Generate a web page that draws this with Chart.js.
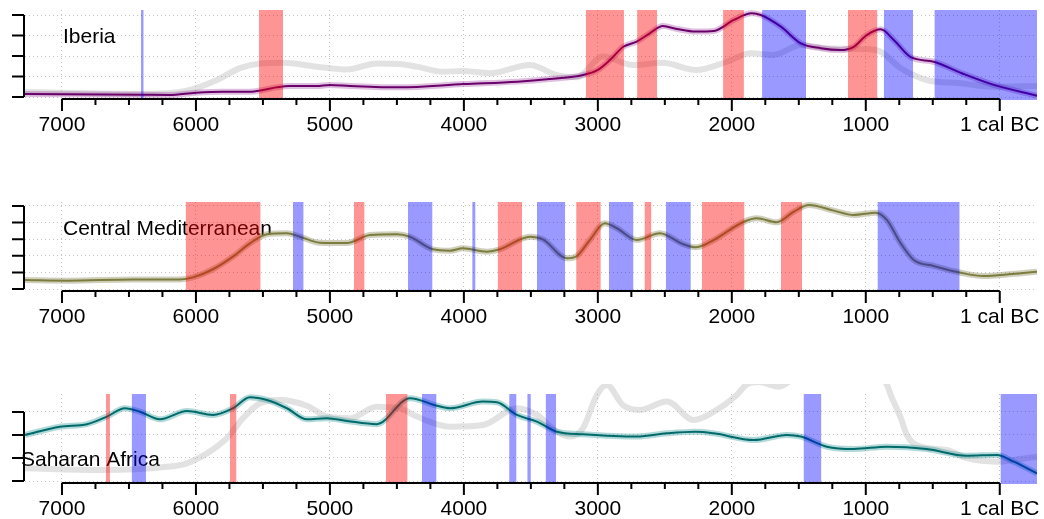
<!DOCTYPE html>
<html>
<head>
<meta charset="utf-8">
<script src="https://cdn.jsdelivr.net/npm/chart.js@4.4.1/dist/chart.umd.min.js"></script>
<style>
  html, body { margin: 0; padding: 0; background: #fff; }
  body { width: 1044px; height: 519px; position: relative; overflow: hidden; }
  canvas { position: absolute; left: 0; }
</style>
</head>
<body>
<canvas id="c1" width="1044" height="140" style="top:0px"></canvas>
<canvas id="c2" width="1044" height="140" style="top:192px"></canvas>
<canvas id="c3" width="1044" height="135" style="top:384px"></canvas>
<script>
// ---------- Data ----------
const xMin = -278, xMax = 7276; // years cal BC, axis runs right to left
const majorTicks = [7000, 6000, 5000, 4000, 3000, 2000, 1000, 0];
const majorLabels = ["7000", "6000", "5000", "4000", "3000", "2000", "1000", "1 cal BC"];
const minorStep = 250;

// Iberia
const iberiaYears = [7276, 6400, 6200, 6000, 5800, 5600, 5500, 5400, 5300, 5100, 5000, 4850, 4480, 4000, 3600, 3360, 3110, 3000, 2910, 2810, 2710, 2610, 2515, 2410, 2270, 2134, 1985, 1851, 1784, 1634, 1485, 1336, 1187, 1090, 993, 888, 791, 664, 493, 284, 44, -278];
const iberiaValues = [0.15, 0.11, 0.10, 0.21, 0.26, 0.26, 0.34, 0.47, 0.54, 0.54, 0.59, 0.54, 0.47, 0.63, 0.75, 0.88, 1.07, 1.32, 1.80, 2.45, 2.70, 3.12, 3.46, 3.32, 3.19, 3.22, 3.76, 4.08, 4.00, 3.43, 2.62, 2.38, 2.29, 2.45, 3.02, 3.30, 2.78, 1.94, 1.72, 1.16, 0.59, 0.06];
const iberiaGrayYears = [7276, 6418, 6067, 5843, 5672, 5522, 5351, 5097, 4873, 4650, 4478, 4351, 4157, 4007, 3806, 3507, 3306, 3157, 2963, 2739, 2515, 2270, 2037, 1858, 1687, 1485, 1291, 993, 888, 739, 545, 291, 45, -278];
const iberiaGrayValues = [0.24, 0.15, 0.31, 0.83, 1.41, 1.64, 1.67, 1.48, 1.34, 1.64, 1.61, 1.48, 1.23, 1.27, 1.16, 1.56, 1.07, 0.96, 1.97, 1.56, 1.67, 1.32, 1.72, 2.13, 2.05, 2.54, 2.38, 2.33, 2.21, 1.40, 0.83, 0.67, 0.50, 0.54];
const iberiaRed = [[5530, 5350], [3090, 2805], [2707, 2557], [2065, 1910], [1134, 913]];
const iberiaBlue = [[6410, 6390], [1774, 1446], [866, 647], [488, -278]];
const iberiaYTicks = [0, 1, 2, 3, 4];

// Central Mediterranean
const cmedYears = [7276, 6963, 6470, 6119, 6022, 5873, 5724, 5597, 5470, 5321, 5224, 5075, 4873, 4701, 4500, 4403, 4231, 4104, 4007, 3828, 3731, 3507, 3410, 3231, 3157, 3060, 2948, 2858, 2709, 2537, 2366, 2270, 2157, 1910, 1813, 1664, 1537, 1425, 1239, 1090, 926, 843, 739, 642, 493, 291, 119, -90, -278];
const cmedValues = [0.54, 0.50, 0.58, 0.58, 0.70, 1.19, 1.95, 2.75, 3.30, 3.36, 3.15, 2.79, 2.77, 3.25, 3.30, 3.15, 2.39, 2.31, 2.45, 2.25, 2.39, 3.15, 2.99, 1.85, 1.99, 2.95, 3.96, 3.66, 2.95, 3.36, 2.71, 2.51, 2.85, 4.05, 4.26, 4.02, 4.66, 5.06, 4.72, 4.46, 4.60, 4.16, 2.75, 1.75, 1.39, 0.98, 0.78, 0.90, 1.04];
const cmedRed = [[6077, 5517], [4821, 4741], [3748, 3565], [3162, 2978], [2652, 2600], [2224, 1905], [1634, 1475]];
const cmedBlue = [[5276, 5196], [4418, 4234], [3938, 3913], [3455, 3244], [2918, 2734], [2493, 2306], [913, 299]];
const cmedYTicks = [0, 1, 2, 3, 4, 5];

// Saharan Africa
const saharaYears = [7276, 7015, 6813, 6664, 6530, 6418, 6269, 6067, 5873, 5724, 5597, 5470, 5321, 5172, 5022, 4873, 4650, 4403, 4201, 4104, 3858, 3754, 3604, 3455, 3306, 3112, 2709, 2485, 2270, 2134, 1836, 1590, 1485, 1291, 1090, 843, 545, 246, 22, -104, -278];
const saharaValues = [2.00, 2.36, 2.47, 2.80, 3.16, 3.01, 2.68, 3.04, 2.87, 3.16, 3.64, 3.52, 3.16, 2.68, 2.73, 2.61, 2.47, 3.60, 3.27, 3.16, 3.45, 3.42, 2.87, 2.58, 2.14, 2.03, 1.93, 2.07, 2.14, 2.07, 1.78, 2.00, 1.93, 1.49, 1.39, 1.49, 1.39, 1.10, 1.13, 0.84, 0.33];
const saharaGrayYears = [7276, 6716, 6216, 6067, 5918, 5769, 5649, 5522, 5373, 5172, 5022, 4851, 4650, 4478, 4351, 4104, 3858, 3604, 3455, 3306, 3209, 3112, 3007, 2933, 2813, 2687, 2485, 2284, 2134, 1963, 1888, 1800, 1650, 1500, 1420, 1240, 1090, 930, 843, 814, 739, 694, 590, 396, 246, 22, -104, -278];
const saharaGrayValues = [0.55, 0.48, 0.62, 0.77, 1.20, 1.86, 2.73, 3.38, 3.52, 3.27, 2.80, 2.73, 3.23, 3.16, 2.80, 2.36, 2.43, 3.16, 2.87, 2.14, 1.93, 2.29, 3.74, 4.17, 3.30, 3.09, 3.45, 2.65, 3.01, 3.74, 4.20, 4.30, 4.10, 4.70, 5.10, 4.70, 4.50, 4.60, 4.20, 3.74, 2.74, 2.00, 1.49, 1.35, 0.99, 0.84, 0.91, 1.06];
const saharaRed = [[6672, 6642], [5746, 5697], [4582, 4420]];
const saharaBlue = [[6480, 6373], [4313, 4204], [3662, 3607], [3527, 3500], [3390, 3311], [1465, 1331], [-5, -278]];
const saharaYTicks = [0, 1, 2, 3];

// ---------- Styles ----------
const FONT = '"Liberation Sans", Arial, Helvetica, sans-serif';
const RED = "rgba(255, 0, 0, 0.42)";
const BLUE = "rgba(0, 0, 255, 0.4)";
const GRAY = "rgba(170, 170, 170, 0.34)";
const GRID = "#c4c4c4";

function pts(xs, ys) {
  return xs.map((x, i) => ({ x: x, y: ys[i] }));
}

function bandSet(b, color, yMin, yMax) {
  return {
    data: [{ x: b[0], y: yMax }, { x: b[1], y: yMax }],
    borderColor: "rgba(0,0,0,0)",
    borderWidth: 0,
    pointRadius: 0,
    backgroundColor: color,
    fill: { value: yMin },
  };
}

function lineSet(xs, ys, color, width, clipTop) {
  return {
    data: pts(xs, ys),
    borderColor: color,
    borderWidth: width,
    pointRadius: 0,
    fill: false,
    cubicInterpolationMode: "monotone",
    clip: { left: 0, right: 0, bottom: 0, top: clipTop },
  };
}

// R-style axes: line only between first and last tick, ticks outside
const rAxes = {
  id: "rAxes",
  afterDraw(chart) {
    const { ctx, chartArea: a, scales } = chart;
    const x = scales.x, y = scales.y;
    const yAx = a.bottom - 1;
    ctx.save();
    ctx.strokeStyle = "#000";
    ctx.lineWidth = 2;
    ctx.beginPath();
    ctx.moveTo(x.getPixelForValue(majorTicks[0]), yAx);
    ctx.lineTo(x.getPixelForValue(majorTicks[majorTicks.length - 1]), yAx);
    x.ticks.forEach((t) => {
      const px = x.getPixelForValue(t.value);
      const len = majorTicks.includes(t.value) ? 12 : 6;
      ctx.moveTo(px, yAx);
      ctx.lineTo(px, yAx + len);
    });
    const yp = y.ticks.map((t) => y.getPixelForValue(t.value));
    const lx = a.left - 1;
    ctx.moveTo(lx, Math.max(...yp));
    ctx.lineTo(lx, Math.min(...yp));
    yp.forEach((py) => {
      ctx.moveTo(lx, py);
      ctx.lineTo(lx - 12, py);
    });
    ctx.stroke();
    ctx.restore();
  },
};

const panelLabel = {
  id: "panelLabel",
  beforeDatasetsDraw(chart, args, opts) {
    const { ctx, chartArea: a } = chart;
    ctx.save();
    ctx.font = "21px " + FONT;
    ctx.fillStyle = "#000";
    ctx.textBaseline = "alphabetic";
    ctx.fillText(opts.text, opts.x, a.top + opts.dy);
    ctx.restore();
  },
};

function makePanel(id, cfg) {
  const datasets = [];
  cfg.red.forEach((b) => datasets.push(bandSet(b, RED, cfg.yMin, cfg.yMax)));
  cfg.blue.forEach((b) => datasets.push(bandSet(b, BLUE, cfg.yMin, cfg.yMax)));
  datasets.push(lineSet(cfg.years, cfg.values, cfg.color, 2, 10));
  datasets.push(lineSet(cfg.years, cfg.values, cfg.envColor, 6, 10));
  if (cfg.grayYears) {
    datasets.push(lineSet(cfg.grayYears, cfg.grayValues, GRAY, 6, 10));
  }

  const xTicks = [];
  for (let v = majorTicks[0]; v >= 0; v -= minorStep) xTicks.push(v);

  new Chart(document.getElementById(id), {
    type: "line",
    data: { datasets },
    plugins: [rAxes, panelLabel],
    options: {
      responsive: false,
      animation: false,
      devicePixelRatio: 1,
      layout: { padding: { top: 10, right: 7, left: 0, bottom: 0 } },
      plugins: {
        legend: { display: false },
        tooltip: { enabled: false },
        panelLabel: cfg.label,
      },
      scales: {
        x: {
          type: "linear",
          reverse: true,
          min: xMin,
          max: xMax,
          afterBuildTicks: (s) => { s.ticks = xTicks.map((v) => ({ value: v })); },
          afterFit: (s) => { s.height = cfg.axisH; s.paddingLeft = 0; s.paddingRight = 0; },
          ticks: {
            autoSkip: false,
            maxRotation: 0,
            padding: 13,
            color: "#000",
            font: { family: FONT, size: 21 },
            callback: (v) => {
              const i = majorTicks.indexOf(v);
              return i >= 0 ? majorLabels[i] : "";
            },
          },
          grid: {
            drawTicks: false,
            lineWidth: 1,
            color: (c) => (c.tick && majorTicks.includes(c.tick.value) ? GRID : "rgba(0,0,0,0)"),
          },
          border: { display: false, dash: [1, 3] },
        },
        y: {
          type: "linear",
          min: cfg.yMin,
          max: cfg.yMax,
          afterBuildTicks: (s) => { s.ticks = cfg.yTicks.map((v) => ({ value: v })); },
          afterFit: (s) => { s.width = 25; },
          ticks: { display: false },
          grid: { drawTicks: false, color: GRID, lineWidth: 1 },
          border: { display: false, dash: [1, 3] },
        },
      },
    },
  });
}

makePanel("c1", {
  years: iberiaYears, values: iberiaValues,
  grayYears: iberiaGrayYears, grayValues: iberiaGrayValues,
  red: iberiaRed, blue: iberiaBlue,
  color: "#6a006a", envColor: "rgba(128, 0, 128, 0.25)",
  yMin: -0.146, yMax: 4.244, yTicks: iberiaYTicks, axisH: 40,
  label: { text: "Iberia", x: 63, dy: 33 },
});

makePanel("c2", {
  years: cmedYears, values: cmedValues,
  red: cmedRed, blue: cmedBlue,
  color: "#7c7c3e", envColor: "rgba(128, 128, 80, 0.38)",
  yMin: -0.18, yMax: 5.24, yTicks: cmedYTicks, axisH: 40,
  label: { text: "Central Mediterranean", x: 63, dy: 33 },
});

makePanel("c3", {
  years: saharaYears, values: saharaValues,
  grayYears: saharaGrayYears, grayValues: saharaGrayValues,
  red: saharaRed, blue: saharaBlue,
  color: "#006a6a", envColor: "rgba(0, 128, 128, 0.3)",
  yMin: -0.13, yMax: 3.78, yTicks: saharaYTicks, axisH: 35,
  label: { text: "Saharan Africa", x: 21, dy: 72 },
});
</script>
</body>
</html>
